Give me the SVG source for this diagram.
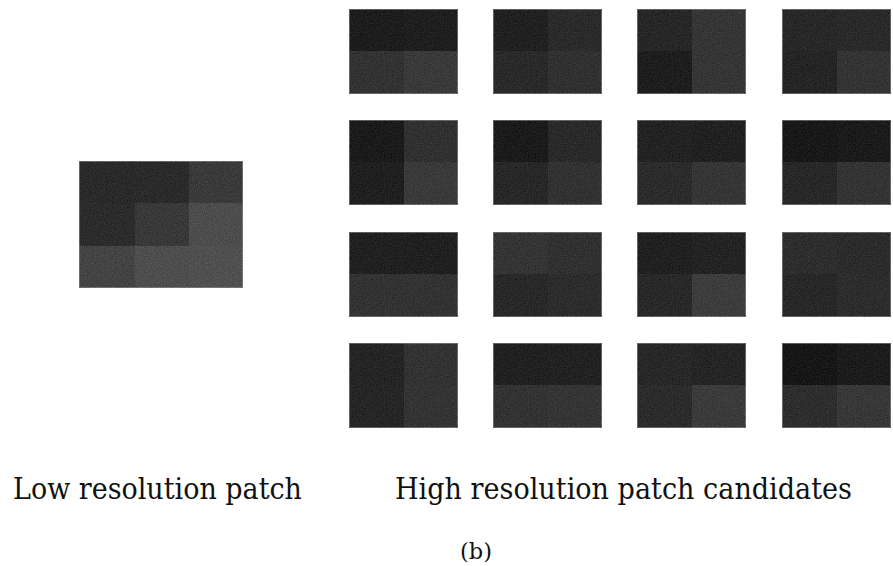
<svg xmlns="http://www.w3.org/2000/svg" width="893" height="566" viewBox="0 0 893 566">
  <defs>
    <filter id="grain" x="0" y="0" width="1" height="1" color-interpolation-filters="sRGB">
      <feTurbulence type="fractalNoise" baseFrequency="0.9" numOctaves="2" seed="7" result="t"/>
      <feColorMatrix in="t" type="matrix" values="0.33 0.33 0.33 0 0 0.33 0.33 0.33 0 0 0.33 0.33 0.33 0 0 0 0 0 0 1" result="g"/>
      <feComposite in="SourceGraphic" in2="g" operator="arithmetic" k1="0" k2="1" k3="0.34" k4="-0.17" result="c"/>
      <feComposite in="c" in2="SourceGraphic" operator="in"/>
    </filter>
  </defs>
  <style>
    .patch { filter: url(#grain); }
    .patch rect { shape-rendering: crispEdges; }
    .frame { fill: none; stroke: #8c8c8c; stroke-width: 1; stroke-opacity: 0.6; }
    .label { font-family: "DejaVu Serif", serif; fill: #111111; }
  </style>
  <rect width="893" height="566" fill="#ffffff"/>

  <g id="low-res-patch" class="patch">
    <rect x="79" y="161" width="56" height="42" fill="#2a2a2a"/>
    <rect x="135" y="161" width="54" height="42" fill="#2b2b2b"/>
    <rect x="189" y="161" width="54" height="42" fill="#3a3a3a"/>
    <rect x="79" y="203" width="56" height="43" fill="#2c2c2c"/>
    <rect x="135" y="203" width="54" height="43" fill="#393939"/>
    <rect x="189" y="203" width="54" height="43" fill="#4d4d4d"/>
    <rect x="79" y="246" width="56" height="42" fill="#444444"/>
    <rect x="135" y="246" width="54" height="42" fill="#4e4e4e"/>
    <rect x="189" y="246" width="54" height="42" fill="#505050"/>
    <rect class="frame" x="79.5" y="161.5" width="163" height="126"/>
  </g>

  <!-- High resolution candidates: cell order TL, TR, BL, BR -->
  <g id="cand-r1c1" class="patch" transform="translate(349,9)">
    <rect x="0" y="0" width="55" height="42" fill="#1d1d1d"/>
    <rect x="55" y="0" width="54" height="42" fill="#1f1f1f"/>
    <rect x="0" y="42" width="55" height="43" fill="#333333"/>
    <rect x="55" y="42" width="54" height="43" fill="#3a3a3a"/>
    <rect class="frame" x="0.5" y="0.5" width="108" height="84"/>
  </g>
  <g id="cand-r1c2" class="patch" transform="translate(493,9)">
    <rect x="0" y="0" width="55" height="42" fill="#212121"/>
    <rect x="55" y="0" width="54" height="42" fill="#2b2b2b"/>
    <rect x="0" y="42" width="55" height="43" fill="#2a2a2a"/>
    <rect x="55" y="42" width="54" height="43" fill="#313131"/>
    <rect class="frame" x="0.5" y="0.5" width="108" height="84"/>
  </g>
  <g id="cand-r1c3" class="patch" transform="translate(637,9)">
    <rect x="0" y="0" width="55" height="42" fill="#272727"/>
    <rect x="55" y="0" width="54" height="42" fill="#363636"/>
    <rect x="0" y="42" width="55" height="43" fill="#1e1e1e"/>
    <rect x="55" y="42" width="54" height="43" fill="#363636"/>
    <rect class="frame" x="0.5" y="0.5" width="108" height="84"/>
  </g>
  <g id="cand-r1c4" class="patch" transform="translate(782,9)">
    <rect x="0" y="0" width="55" height="42" fill="#282828"/>
    <rect x="55" y="0" width="54" height="42" fill="#2a2a2a"/>
    <rect x="0" y="42" width="55" height="43" fill="#252525"/>
    <rect x="55" y="42" width="54" height="43" fill="#343434"/>
    <rect class="frame" x="0.5" y="0.5" width="108" height="84"/>
  </g>

  <g id="cand-r2c1" class="patch" transform="translate(349,120)">
    <rect x="0" y="0" width="55" height="42" fill="#1b1b1b"/>
    <rect x="55" y="0" width="54" height="42" fill="#313131"/>
    <rect x="0" y="42" width="55" height="43" fill="#202020"/>
    <rect x="55" y="42" width="54" height="43" fill="#3a3a3a"/>
    <rect class="frame" x="0.5" y="0.5" width="108" height="84"/>
  </g>
  <g id="cand-r2c2" class="patch" transform="translate(493,120)">
    <rect x="0" y="0" width="55" height="42" fill="#1b1b1b"/>
    <rect x="55" y="0" width="54" height="42" fill="#2a2a2a"/>
    <rect x="0" y="42" width="55" height="43" fill="#282828"/>
    <rect x="55" y="42" width="54" height="43" fill="#323232"/>
    <rect class="frame" x="0.5" y="0.5" width="108" height="84"/>
  </g>
  <g id="cand-r2c3" class="patch" transform="translate(637,120)">
    <rect x="0" y="0" width="55" height="42" fill="#232323"/>
    <rect x="55" y="0" width="54" height="42" fill="#212121"/>
    <rect x="0" y="42" width="55" height="43" fill="#2c2c2c"/>
    <rect x="55" y="42" width="54" height="43" fill="#363636"/>
    <rect class="frame" x="0.5" y="0.5" width="108" height="84"/>
  </g>
  <g id="cand-r2c4" class="patch" transform="translate(782,120)">
    <rect x="0" y="0" width="55" height="42" fill="#191919"/>
    <rect x="55" y="0" width="54" height="42" fill="#1b1b1b"/>
    <rect x="0" y="42" width="55" height="43" fill="#282828"/>
    <rect x="55" y="42" width="54" height="43" fill="#343434"/>
    <rect class="frame" x="0.5" y="0.5" width="108" height="84"/>
  </g>

  <g id="cand-r3c1" class="patch" transform="translate(349,232)">
    <rect x="0" y="0" width="55" height="42" fill="#212121"/>
    <rect x="55" y="0" width="54" height="42" fill="#202020"/>
    <rect x="0" y="42" width="55" height="43" fill="#333333"/>
    <rect x="55" y="42" width="54" height="43" fill="#333333"/>
    <rect class="frame" x="0.5" y="0.5" width="108" height="84"/>
  </g>
  <g id="cand-r3c2" class="patch" transform="translate(493,232)">
    <rect x="0" y="0" width="55" height="42" fill="#353535"/>
    <rect x="55" y="0" width="54" height="42" fill="#313131"/>
    <rect x="0" y="42" width="55" height="43" fill="#292929"/>
    <rect x="55" y="42" width="54" height="43" fill="#2d2d2d"/>
    <rect class="frame" x="0.5" y="0.5" width="108" height="84"/>
  </g>
  <g id="cand-r3c3" class="patch" transform="translate(637,232)">
    <rect x="0" y="0" width="55" height="42" fill="#212121"/>
    <rect x="55" y="0" width="54" height="42" fill="#242424"/>
    <rect x="0" y="42" width="55" height="43" fill="#292929"/>
    <rect x="55" y="42" width="54" height="43" fill="#3d3d3d"/>
    <rect class="frame" x="0.5" y="0.5" width="108" height="84"/>
  </g>
  <g id="cand-r3c4" class="patch" transform="translate(782,232)">
    <rect x="0" y="0" width="55" height="42" fill="#2e2e2e"/>
    <rect x="55" y="0" width="54" height="42" fill="#2c2c2c"/>
    <rect x="0" y="42" width="55" height="43" fill="#282828"/>
    <rect x="55" y="42" width="54" height="43" fill="#2d2d2d"/>
    <rect class="frame" x="0.5" y="0.5" width="108" height="84"/>
  </g>

  <g id="cand-r4c1" class="patch" transform="translate(349,343)">
    <rect x="0" y="0" width="55" height="42" fill="#252525"/>
    <rect x="55" y="0" width="54" height="42" fill="#333333"/>
    <rect x="0" y="42" width="55" height="43" fill="#262626"/>
    <rect x="55" y="42" width="54" height="43" fill="#343434"/>
    <rect class="frame" x="0.5" y="0.5" width="108" height="84"/>
  </g>
  <g id="cand-r4c2" class="patch" transform="translate(493,343)">
    <rect x="0" y="0" width="55" height="42" fill="#212121"/>
    <rect x="55" y="0" width="54" height="42" fill="#222222"/>
    <rect x="0" y="42" width="55" height="43" fill="#333333"/>
    <rect x="55" y="42" width="54" height="43" fill="#353535"/>
    <rect class="frame" x="0.5" y="0.5" width="108" height="84"/>
  </g>
  <g id="cand-r4c3" class="patch" transform="translate(637,343)">
    <rect x="0" y="0" width="55" height="42" fill="#282828"/>
    <rect x="55" y="0" width="54" height="42" fill="#252525"/>
    <rect x="0" y="42" width="55" height="43" fill="#2c2c2c"/>
    <rect x="55" y="42" width="54" height="43" fill="#3b3b3b"/>
    <rect class="frame" x="0.5" y="0.5" width="108" height="84"/>
  </g>
  <g id="cand-r4c4" class="patch" transform="translate(782,343)">
    <rect x="0" y="0" width="55" height="42" fill="#171717"/>
    <rect x="55" y="0" width="54" height="42" fill="#1c1c1c"/>
    <rect x="0" y="42" width="55" height="43" fill="#2e2e2e"/>
    <rect x="55" y="42" width="54" height="43" fill="#383838"/>
    <rect class="frame" x="0.5" y="0.5" width="108" height="84"/>
  </g>

  <g id="connectors"></g>

  <g id="labels">
    <text class="label" transform="translate(13,498.5) scale(0.82,1)" x="0" y="0" font-size="30" textLength="352.4" lengthAdjust="spacingAndGlyphs">Low resolution patch</text>
    <text class="label" transform="translate(395,498.5) scale(0.82,1)" x="0" y="0" font-size="30" textLength="557.3" lengthAdjust="spacingAndGlyphs">High resolution patch candidates</text>
    <text class="label" x="460" y="558.5" font-size="23" textLength="32" lengthAdjust="spacingAndGlyphs">(b)</text>
  </g>
</svg>
